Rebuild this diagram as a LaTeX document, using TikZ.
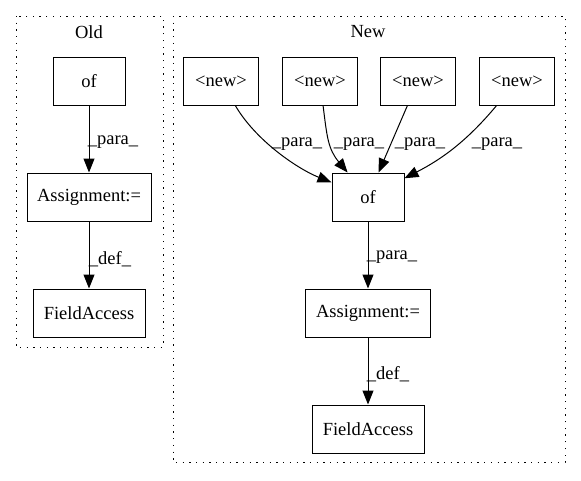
\documentclass[tikz,border=0pt]{standalone}
\usepackage{fontspec}
\setmainfont{Liberation Serif}
\usetikzlibrary{arrows.meta}

\begin{document}
\begin{tikzpicture}[x=1pt,y=-1pt]
    \tikzstyle{op} = [rectangle, draw, line width=1pt, minimum height=48pt, inner sep=0pt, font=\fontsize{18.5}{22}\selectfont]
    \tikzstyle{lbl} = [inner sep=0pt, font=\fontsize{18.5}{22}\selectfont]
    \tikzstyle{edge} = [line width=1pt, -{Triangle[length=14pt,width=11pt]}]
    \tikzstyle{cluster} = [line width=1pt, dash pattern=on 1.3pt off 5.4pt]

    \useasboundingbox (0,0) rectangle (581,480);

    % clusters
    \draw[cluster] (16,16) rectangle (163,347);
    \draw[cluster] (173,16) rectangle (565,462);
    \node[lbl] (oldtitle) at (89,32) {Old};
    \node[lbl] (newtitle) at (368,32) {New};

    % Old
    \node[op, minimum width=72pt] (oldof) at (89,81) {of};
    \node[op, minimum width=124pt] (oldassign) at (89,197) {Assignment:=};
    \node[op, minimum width=112pt] (oldfield) at (89,313) {FieldAccess};

    \draw[edge] (oldof) -- (oldassign);
    \draw[edge] (oldassign) -- (oldfield);
    \node[lbl] (oldpara) at (113,142) {\_para\_};
    \node[lbl] (olddef) at (110,259) {\_def\_};

    % New
    \node[op, minimum width=75pt] (new1) at (221,81) {<new>};
    \node[op, minimum width=75pt] (new2) at (320,81) {<new>};
    \node[op, minimum width=75pt] (new3) at (418,81) {<new>};
    \node[op, minimum width=75pt] (new4) at (517,81) {<new>};
    \node[op, minimum width=72pt] (newof) at (368,197) {of};
    \node[op, minimum width=125pt] (newassign) at (368,313) {Assignment:=};
    \node[op, minimum width=112pt] (newfield) at (368,429) {FieldAccess};

    \draw[edge] (new1) .. controls (256,141) and (298,169) .. (newof);
    \draw[edge] (new2) .. controls (327,137) and (328,149) .. (newof);
    \draw[edge] (new3) -- (newof);
    \draw[edge] (new4) .. controls (467,141) and (442,159) .. (newof);
    \draw[edge] (newof) -- (newassign);
    \draw[edge] (newassign) -- (newfield);

    \node[lbl] (para1) at (297,144) {\_para\_};
    \node[lbl] (para2) at (359,144) {\_para\_};
    \node[lbl] (para3) at (420,144) {\_para\_};
    \node[lbl] (para4) at (497,144) {\_para\_};
    \node[lbl] (para5) at (392,257) {\_para\_};
    \node[lbl] (newdef) at (388,374) {\_def\_};
\end{tikzpicture}
\end{document}
